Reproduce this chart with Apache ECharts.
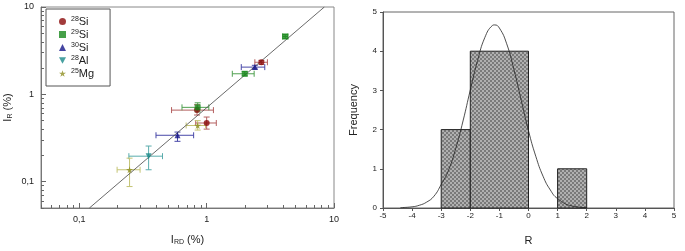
<!DOCTYPE html>
<html>
<head>
<meta charset="utf-8">
<script src="https://cdn.jsdelivr.net/npm/echarts@6/dist/echarts.min.js"></script>
<style>
  html, body { margin: 0; padding: 0; background: #fff; }
  #chart { width: 685px; height: 251px; }
</style>
</head>
<body>
<div id="chart"></div>
<script>
// left panel: I_R vs I_RD, log-log
const si28X = [2.69, 0.84, 1.0]
const si28Y = [2.33, 0.66, 0.47]
const si28XErr = [[2.39, 3.0], [0.53, 1.13], [0.82, 1.19]]
const si28YErr = [[2.2, 2.45], [0.58, 0.76], [0.40, 0.55]]

const si29X = [4.14, 1.99, 0.85]
const si29Y = [4.6, 1.72, 0.71]
const si29XErr = [[3.95, 4.35], [1.59, 2.36], [0.64, 1.04]]
const si29YErr = [[4.35, 4.85], [1.63, 1.82], [0.63, 0.80]]

const si30X = [2.39, 0.59]
const si30Y = [2.05, 0.34]
const si30XErr = [[1.87, 2.86], [0.40, 0.79]]
const si30YErr = [[1.95, 2.15], [0.29, 0.37]]

const al28X = [0.35]
const al28Y = [0.196]
const al28XErr = [[0.245, 0.45]]
const al28YErr = [[0.137, 0.256]]

const mg25X = [0.248, 0.85]
const mg25Y = [0.137, 0.44]
const mg25XErr = [[0.198, 0.30], [0.69, 0.98]]
const mg25YErr = [[0.088, 0.186], [0.39, 0.50]]

const lineX = [0.12, 8.4]
const lineY = [0.05, 10]

const logMajor = [0.1, 1, 10]
const logMinor = [0.05, 0.06, 0.07, 0.08, 0.09, 0.2, 0.3, 0.4, 0.5, 0.6, 0.7, 0.8, 0.9,
  2, 3, 4, 5, 6, 7, 8, 9]

// right panel: histogram of R
const binStart = [-3, -2, 1]
const binEnd = [-2, 0, 2]
const binCount = [2, 4, 1]

const curveX = [-4.4, -4.0, -3.75, -3.5, -3.25, -3.0, -2.75, -2.5, -2.25, -2.0, -1.75, -1.5,
  -1.25, -1.16, -1.0, -0.75, -0.5, -0.25, 0.0, 0.25, 0.5, 0.75, 1.0, 1.5, 2.0]
const curveY = [0.01, 0.03, 0.07, 0.15, 0.30, 0.60, 0.96, 1.52, 2.22, 3.01, 3.76, 4.35,
  4.65, 4.67, 4.59, 4.19, 3.53, 2.75, 1.97, 1.32, 0.81, 0.46, 0.24, 0.05, 0.01]

const starPath = 'path://M50,0 L61,35 L98,35 L68,57 L79,91 L50,70 L21,91 L32,57 L2,35 L39,35 Z'
const downTriangle = 'path://M0,0 L100,0 L50,90 Z'

const isotopes = [
  { name: '28Si', x: si28X, y: si28Y, xe: si28XErr, ye: si28YErr, color: '#8b0a0a', err: '#b46060', symbol: 'circle', size: 6 },
  { name: '29Si', x: si29X, y: si29Y, xe: si29XErr, ye: si29YErr, color: '#18881c', err: '#50a050', symbol: 'rect', size: 6 },
  { name: '30Si', x: si30X, y: si30Y, xe: si30XErr, ye: si30YErr, color: '#16168a', err: '#4848a8', symbol: 'triangle', size: 6 },
  { name: '28Al', x: al28X, y: al28Y, xe: al28XErr, ye: al28YErr, color: '#1a8a8a', err: '#5aacac', symbol: downTriangle, size: 6 },
  { name: '25Mg', x: mg25X, y: mg25Y, xe: mg25XErr, ye: mg25YErr, color: '#8e8e22', err: '#c4c474', symbol: starPath, size: 7 }
]

// checkered fill used by the histogram bars
const makePattern = () => {
  const c = document.createElement('canvas')
  c.width = 4
  c.height = 4
  const ctx = c.getContext('2d')
  ctx.fillStyle = '#7a7a7a'
  ctx.fillRect(0, 0, 4, 4)
  ctx.fillStyle = '#b0b0b0'
  ctx.fillRect(0, 0, 2, 2)
  ctx.fillRect(2, 2, 2, 2)
  return c
}
const pattern = { image: makePattern(), repeat: 'repeat' }

const textColor = '#222'
const font = 'Liberation Sans, Arial, sans-serif'

const errorBarRender = (color) => (params, api) => {
  const x = api.value(0), y = api.value(1)
  const p0 = api.coord([api.value(2), y])
  const p1 = api.coord([api.value(3), y])
  const q0 = api.coord([x, api.value(4)])
  const q1 = api.coord([x, api.value(5)])
  const cap = 3
  const style = { stroke: color, lineWidth: 1 }
  const seg = (x1, y1, x2, y2) => ({ type: 'line', shape: { x1, y1, x2, y2 }, style })
  return {
    type: 'group',
    children: [
      seg(p0[0], p0[1], p1[0], p1[1]),
      seg(p0[0], p0[1] - cap, p0[0], p0[1] + cap),
      seg(p1[0], p1[1] - cap, p1[0], p1[1] + cap),
      seg(q0[0], q0[1], q1[0], q1[1]),
      seg(q0[0] - cap, q0[1], q0[0] + cap, q0[1]),
      seg(q1[0] - cap, q1[1], q1[0] + cap, q1[1])
    ]
  }
}

const series = []
isotopes.forEach(iso => {
  series.push({
    name: iso.name + ' err',
    type: 'custom',
    xAxisIndex: 0,
    yAxisIndex: 0,
    renderItem: errorBarRender(iso.err),
    data: iso.x.map((v, i) => [v, iso.y[i], iso.xe[i][0], iso.xe[i][1], iso.ye[i][0], iso.ye[i][1]]),
    encode: { x: 0, y: 1 },
    z: 2,
    silent: true
  })
})
series.push({
  name: 'line',
  type: 'line',
  xAxisIndex: 0,
  yAxisIndex: 0,
  data: lineX.map((v, i) => [v, lineY[i]]),
  symbol: 'none',
  lineStyle: { color: '#444', width: 0.8 },
  z: 3,
  silent: true
})
isotopes.forEach(iso => {
  series.push({
    name: iso.name,
    type: 'scatter',
    xAxisIndex: 0,
    yAxisIndex: 0,
    data: iso.x.map((v, i) => [v, iso.y[i]]),
    symbol: iso.symbol,
    symbolSize: iso.size,
    itemStyle: { color: iso.color },
    z: 4
  })
})
series.push({
  name: 'hist',
  type: 'custom',
  xAxisIndex: 2,
  yAxisIndex: 2,
  renderItem: (params, api) => {
    const a = api.coord([api.value(0), api.value(2)])
    const b = api.coord([api.value(1), 0])
    return {
      type: 'rect',
      shape: { x: a[0], y: a[1], width: b[0] - a[0], height: b[1] - a[1] },
      style: { fill: pattern, stroke: '#222', lineWidth: 1 }
    }
  },
  data: binStart.map((v, i) => [v, binEnd[i], binCount[i]]),
  encode: { x: [0, 1], y: 2 },
  z: 2,
  silent: true
})
series.push({
  name: 'normal',
  type: 'line',
  xAxisIndex: 2,
  yAxisIndex: 2,
  data: curveX.map((v, i) => [v, curveY[i]]),
  smooth: true,
  symbol: 'none',
  lineStyle: { color: '#222', width: 0.8 },
  z: 3,
  silent: true
})

const supName = (name) => {
  const m = name.match(/^(\d+)(\D+)$/)
  return '{sup|' + m[1] + '}{el|' + m[2] + '}'
}

const chart = echarts.init(document.getElementById('chart'))
chart.setOption({
  animation: false,
  textStyle: { fontFamily: font },
  grid: [
    { left: 41, top: 7, width: 293, height: 205, show: true, borderColor: '#888', borderWidth: 1 },
    { left: 383, top: 12, width: 291, height: 204, show: true, borderColor: '#666', borderWidth: 1 }
  ],
  legend: {
    data: isotopes.map(i => i.name),
    orient: 'vertical',
    left: 46,
    top: 9,
    padding: [7, 16, 7, 13],
    itemGap: 2,
    itemWidth: 7,
    itemHeight: 7,
    borderColor: '#555',
    borderWidth: 1,
    formatter: supName,
    textStyle: {
      color: textColor,
      rich: {
        sup: { fontSize: 7, verticalAlign: 'top', color: textColor, fontFamily: font },
        el: { fontSize: 11, color: textColor, fontFamily: font }
      }
    }
  },
  xAxis: [
    {
      gridIndex: 0, type: 'log', min: 0.05, max: 10, position: 'bottom',
      name: '{m|I}{s|RD}{m| (%)}', nameLocation: 'middle', nameGap: 25,
      nameTextStyle: { rich: { m: { fontSize: 11, color: textColor }, s: { fontSize: 7, color: textColor, verticalAlign: 'bottom', padding: [6, 0, 0, 0] } } },
      axisLine: { lineStyle: { color: '#777' } },
      axisTick: { inside: true, length: 5, customValues: logMajor, lineStyle: { color: '#666' } },
      axisLabel: { customValues: logMajor, fontSize: 9, color: textColor, margin: 7, formatter: v => String(v).replace('.', ',') },
      splitLine: { show: false }
    },
    {
      gridIndex: 0, type: 'log', min: 0.05, max: 10, position: 'bottom',
      axisLine: { show: false },
      axisTick: { show: true, inside: true, length: 3, customValues: logMinor, lineStyle: { color: '#666' } },
      axisLabel: { show: false },
      splitLine: { show: false }
    },
    {
      gridIndex: 1, type: 'value', min: -5, max: 5, interval: 1,
      name: 'R', nameLocation: 'middle', nameGap: 27,
      nameTextStyle: { fontSize: 11, color: textColor },
      axisLine: { onZero: false, lineStyle: { color: '#555' } },
      axisTick: { length: 3, lineStyle: { color: '#555' } },
      axisLabel: { fontSize: 8, color: textColor, margin: 4 },
      splitLine: { show: false }
    }
  ],
  yAxis: [
    {
      gridIndex: 0, type: 'log', min: 0.05, max: 10, position: 'left',
      name: '{m|I}{s|R}{m| (%)}', nameLocation: 'middle', nameGap: 27, nameRotate: 90,
      nameTextStyle: { rich: { m: { fontSize: 11, color: textColor }, s: { fontSize: 7, color: textColor, verticalAlign: 'bottom', padding: [6, 0, 0, 0] } } },
      axisLine: { lineStyle: { color: '#777' } },
      axisTick: { inside: true, length: 5, customValues: logMajor, lineStyle: { color: '#666' } },
      axisLabel: { customValues: logMajor, fontSize: 9, color: textColor, margin: 7, formatter: v => String(v).replace('.', ',') },
      splitLine: { show: false }
    },
    {
      gridIndex: 0, type: 'log', min: 0.05, max: 10, position: 'left',
      axisLine: { show: false },
      axisTick: { show: true, inside: true, length: 3, customValues: logMinor, lineStyle: { color: '#666' } },
      axisLabel: { show: false },
      splitLine: { show: false }
    },
    {
      gridIndex: 1, type: 'value', min: 0, max: 5, interval: 1,
      name: 'Frequency', nameLocation: 'middle', nameGap: 24,
      nameTextStyle: { fontSize: 11, color: textColor },
      axisLine: { onZero: false, lineStyle: { color: '#555' } },
      axisTick: { length: 3, lineStyle: { color: '#555' } },
      axisLabel: { fontSize: 8, color: textColor, margin: 6 },
      splitLine: { show: false }
    }
  ],
  series: series
})
</script>
</body>
</html>
